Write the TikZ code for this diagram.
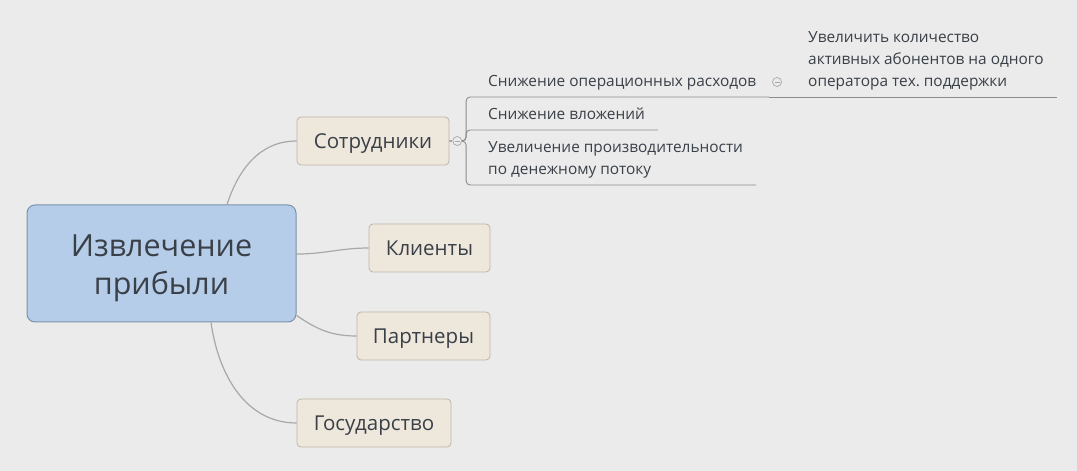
\documentclass[tikz,border=0pt]{standalone}
\usepackage{fontspec}
\setmainfont{Open Sans}
\usepackage{xcolor}
\usetikzlibrary{positioning}
\definecolor{canvas}{RGB}{235,235,235}
\definecolor{central}{RGB}{182,205,233}
\definecolor{centralline}{RGB}{122,146,172}
\definecolor{topicfill}{RGB}{238,231,219}
\definecolor{topicline}{RGB}{190,181,166}
\definecolor{ink}{RGB}{58,64,72}
\definecolor{branch}{RGB}{168,168,168}
\definecolor{barline}{RGB}{140,140,140}
\frenchspacing

\begin{document}
\begin{tikzpicture}[x=1pt, y=1pt,
    root/.style={rectangle, rounded corners=8pt, draw=centralline, line width=1pt, fill=central, minimum width=269pt, minimum height=117pt, text height=69pt, text depth=7pt, align=center, text=ink, font=\fontsize{30.5}{38}\selectfont},
    topic/.style={rectangle, rounded corners=4pt, draw=topicline, line width=0.8pt, fill=topicfill, minimum width=#1, minimum height=48pt, text height=15pt, text depth=0pt, text=ink, font=\fontsize{20.5}{24}\selectfont},
    sub/.style={anchor=south west, inner xsep=13pt, inner ysep=6pt, text depth=4pt, align=left, text=ink, font=\fontsize{15.4}{22}\selectfont},
    fold/.style={circle, draw=branch, line width=0.7pt, inner sep=0pt, minimum size=9pt, path picture={\draw[branch, line width=0.7pt] ([xshift=-2.5pt]path picture bounding box.center) -- ([xshift=2.5pt]path picture bounding box.center);}},
    link/.style={draw=branch, line width=1.2pt},
    bar/.style={draw=barline, line width=0.9pt, rounded corners=4pt}
  ]
  \fill[canvas] (0,0) rectangle (1077,471);

  \node (root) [root] at (161.5,207.5) {Извлечение\\прибыли};
  \node (staff) [topic=152pt] at (373,330) {Сотрудники};
  \node (clients) [topic=121pt] at (429.5,223) {Клиенты};
  \node (partners) [topic=133pt] at (423.5,135) {Партнеры};
  \node (state) [topic=154pt] at (374,48) {Государство};

  \node (sfold) [fold, right=3pt of staff] {};
  \node (opex) [sub] at (475,374) {Снижение операционных расходов};
  \node (cut) [sub] at (475,341) {Снижение вложений};
  \node (prod) [sub] at (475,286) {Увеличение производительности\\по денежному потоку};
  \node (ofold) [fold] at (777,389) {};
  \node (abon) [sub] at (795,374) {Увеличить количество\\активных абонентов на одного\\оператора тех. поддержки};

  \draw[link] (root.42) to[out=72, in=180] (staff.west);
  \draw[link] (root.4) to[out=0, in=180] (clients.west);
  \draw[link] (root.-21) to[out=-35, in=180] (partners.west);
  \draw[link] (root.-50) to[out=-82, in=180] (state.west);
  \draw[link] (staff) -- (sfold);

  \draw[bar] (sfold.east) -- ++(4,0) |- (opex.south east);
  \draw[bar] (sfold.east) -- ++(4,0) |- (cut.south east);
  \draw[bar] (sfold.east) -- ++(4,0) |- (prod.south east);
  \draw[bar] (opex.south east) -- (abon.south east);
\end{tikzpicture}
\end{document}
